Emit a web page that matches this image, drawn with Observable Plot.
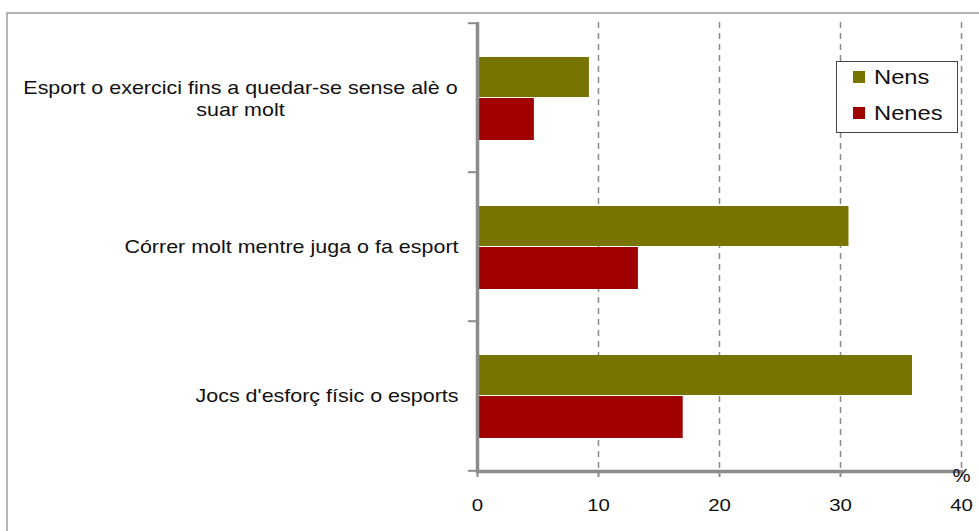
<!DOCTYPE html>
<html>
<head>
<meta charset="utf-8">
<script src="https://cdn.jsdelivr.net/npm/d3@7"></script>
<script src="https://cdn.jsdelivr.net/npm/@observablehq/plot@0.6"></script>
<style>
  html, body { margin: 0; padding: 0; background: #fff; }
  #wrap { position: relative; width: 979px; height: 531px; overflow: hidden; font-family: "Liberation Sans", Arial, sans-serif; }
  #border { position: absolute; left: 6px; top: 12px; width: 990px; height: 540px; border: 2px solid #b4b4b4; box-sizing: border-box; }
  #legend { position: absolute; left: 836px; top: 61px; width: 122px; height: 72px; border: 1.5px solid #444; box-sizing: border-box; background: #fff; }
  .li { position: absolute; left: 16px; display: flex; align-items: center; font-size: 21px; color: #111; }
  .li span { display: inline-block; transform: scaleX(1.13); transform-origin: left center; }
  .sw { width: 12px; height: 12px; margin-right: 9px; }
  svg { position: absolute; left: 0; top: 0; }
</style>
</head>
<body>
<div id="wrap">
  <div id="border"></div>
  <div id="chart"></div>
  <div id="legend"></div>
</div>
<script>
const categories = [
  "Esport o exercici fins a quedar-se sense alè o suar molt",
  "Córrer molt mentre juga o fa esport",
  "Jocs d'esforç físic o esports"
];
const labels = [
  "Esport o exercici fins a quedar-se sense alè o\nsuar molt",
  "Córrer molt mentre juga o fa esport",
  "Jocs d'esforç físic o esports"
];
const series = ["Nens", "Nenes"];
const nens = [9.25, 30.7, 35.95];
const nenes = [4.7, 13.3, 17.0];
const xTicks = [0, 10, 20, 30, 40];
const colors = ["#777500", "#a00000"];

const nensData = categories.map((c, i) => ({category: c, value: nens[i], series: "Nens"}));
const nenesData = categories.map((c, i) => ({category: c, value: nenes[i], series: "Nenes"}));
const labelData = categories.map((c, i) => ({category: c, label: labels[i], multi: labels[i].includes("\n")}));

const axisGray = "#8c8c8c";
const plot = Plot.plot({
  width: 979,
  height: 531,
  marginLeft: 477,
  marginRight: 18,
  marginTop: 22,
  marginBottom: 60,
  style: {fontFamily: "'Liberation Sans', Arial, sans-serif", background: "transparent", overflow: "visible"},
  x: {domain: [0, 40], axis: null},
  y: {domain: categories, padding: 0, axis: null},
  color: {domain: series, range: colors},
  marks: [
    Plot.ruleX(xTicks.filter(d => d > 0), {stroke: "#8a8a8a", strokeWidth: 1.5, strokeDasharray: "6,5"}),
    Plot.barX(nensData, {x: "value", y: "category", fill: "series", insetTop: 34, insetBottom: 75}),
    Plot.barX(nenesData, {x: "value", y: "category", fill: "series", insetTop: 75, insetBottom: 32}),
    Plot.ruleX([0], {stroke: axisGray, strokeWidth: 3.5}),
    Plot.frame({anchor: "bottom", stroke: axisGray, strokeWidth: 3.5}),
    Plot.ruleY(categories, {y: d => d, x1: -0.75, x2: 0, dy: -74.8, stroke: axisGray, strokeWidth: 2}),
    Plot.ruleY(categories.slice(-1), {y: d => d, x1: -0.75, x2: 0, dy: 74.8, stroke: axisGray, strokeWidth: 2}),
    Plot.axisX({ticks: xTicks, tickSize: 6, tickPadding: 21, fontSize: 17, stroke: axisGray, strokeWidth: 2, color: "#111", label: null, tickFormat: d => String(d), className: "xt"}),
    Plot.text(labelData.filter(d => !d.multi), {y: "category", text: "label", frameAnchor: "left", dx: -19, textAnchor: "end", fontSize: 19, fill: "#111", className: "lab"}),
    Plot.text(labelData.filter(d => d.multi), {y: "category", text: "label", frameAnchor: "left", dx: -237, textAnchor: "middle", fontSize: 19, lineHeight: 1.16, fill: "#111", className: "lab"}),
    Plot.text(["%"], {frameAnchor: "bottom-right", text: d => d, dx: 0, dy: 10, textAnchor: "middle", fontSize: 18, fill: "#111", className: "pct"})
  ]
});
document.getElementById("chart").appendChild(plot);

// Stretch glyphs horizontally to match the reference's wide rendering
function stretch(sel, factor) {
  plot.querySelectorAll(sel).forEach(t => {
    const tsp = t.querySelectorAll("tspan");
    const els = tsp.length ? Array.from(tsp) : [t];
    els.forEach(e => {
      const len = e.getComputedTextLength();
      if (len > 0) {
        e.setAttribute("textLength", (len * factor).toFixed(1));
        e.setAttribute("lengthAdjust", "spacingAndGlyphs");
      }
    });
  });
}
stretch("g[aria-label='text'] text", 1.13);
stretch("g[aria-label='x-axis tick label'] text", 1.2);

const legend = document.getElementById("legend");
series.forEach((s, i) => {
  const item = document.createElement("div");
  item.className = "li";
  item.style.top = (i === 0 ? 3 : 39) + "px";
  const sw = document.createElement("div");
  sw.className = "sw";
  sw.style.background = colors[i];
  const t = document.createElement("span");
  t.textContent = s;
  item.appendChild(sw);
  item.appendChild(t);
  legend.appendChild(item);
});
</script>
</body>
</html>
